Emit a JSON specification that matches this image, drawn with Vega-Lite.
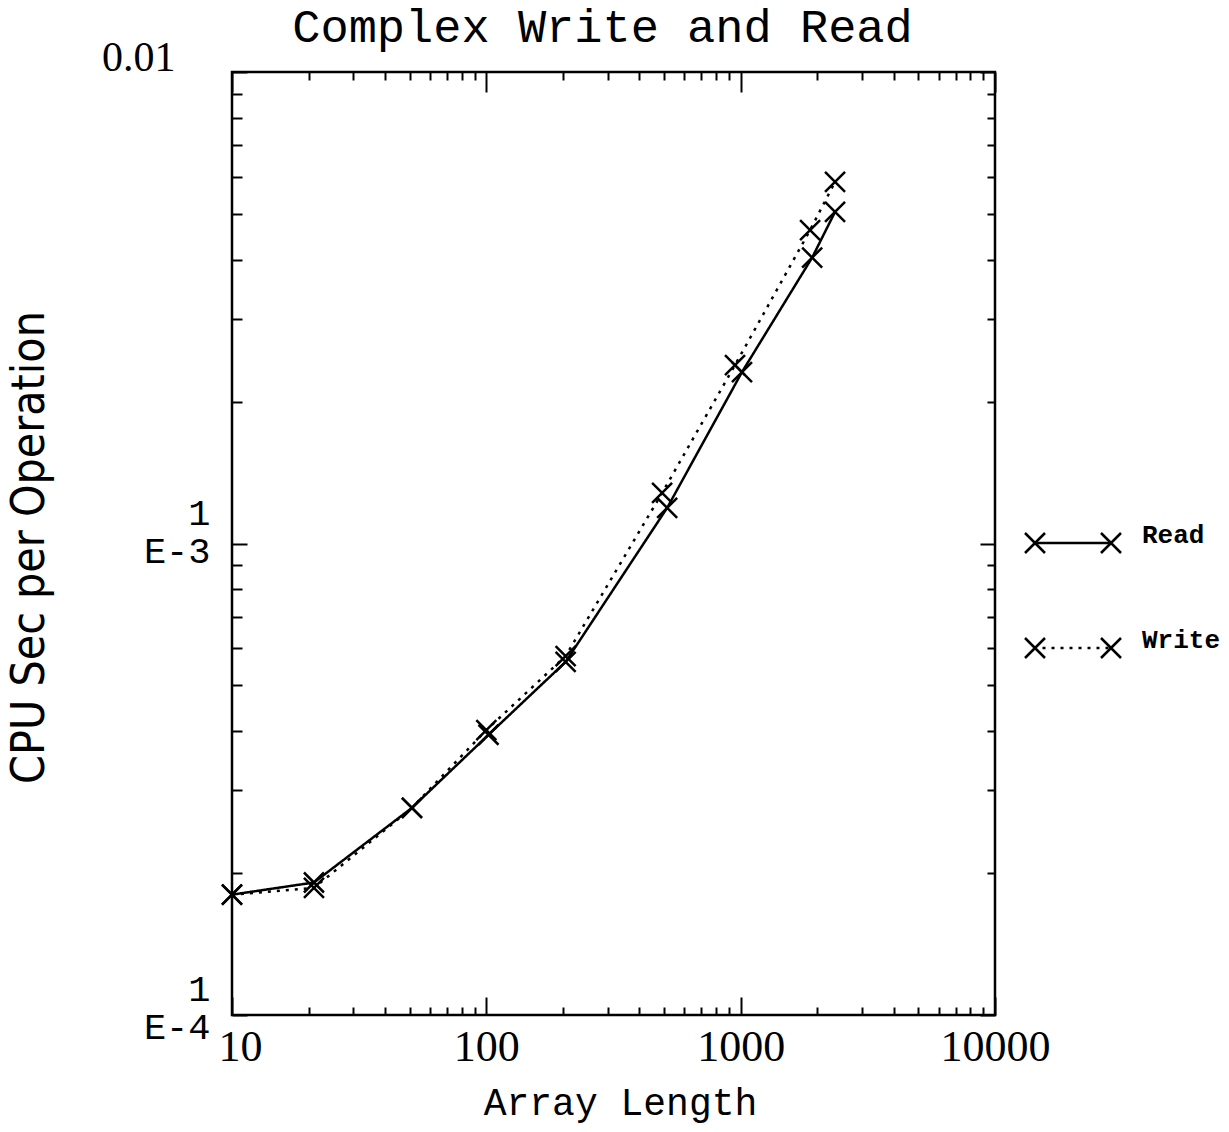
{
  "$schema": "https://vega.github.io/schema/vega-lite/v6.json",
  "width": 763,
  "height": 943,
  "autosize": "none",
  "padding": {"left": 232, "top": 72, "right": 234, "bottom": 117},
  "background": "white",
  "config": {
    "view": {"stroke": "black", "strokeWidth": 2.5},
    "axis": {"domain": false, "grid": false, "tickColor": "black", "tickWidth": 2, "labelColor": "black", "titleColor": "black", "labelOverlap": false, "labelFlush": false}
  },
  "title": {"text": "Complex Write and Read", "font": "Liberation Mono", "fontSize": 47, "fontWeight": "normal", "color": "black", "anchor": "middle", "baseline": "alphabetic", "offset": -53, "dx": -11},
  "data": {"values": [
    {"series": "Read", "length": 10, "cpu": 0.000180},
    {"series": "Read", "length": 21, "cpu": 0.000191},
    {"series": "Read", "length": 51, "cpu": 0.000275},
    {"series": "Read", "length": 102, "cpu": 0.000393},
    {"series": "Read", "length": 205, "cpu": 0.000561},
    {"series": "Read", "length": 514, "cpu": 0.00119},
    {"series": "Read", "length": 1012, "cpu": 0.00231},
    {"series": "Read", "length": 1910, "cpu": 0.00404},
    {"series": "Read", "length": 2350, "cpu": 0.00505},
    {"series": "Write", "length": 10, "cpu": 0.000180},
    {"series": "Write", "length": 21, "cpu": 0.000186},
    {"series": "Write", "length": 51, "cpu": 0.000275},
    {"series": "Write", "length": 100, "cpu": 0.000402},
    {"series": "Write", "length": 205, "cpu": 0.000577},
    {"series": "Write", "length": 491, "cpu": 0.00128},
    {"series": "Write", "length": 950, "cpu": 0.00239},
    {"series": "Write", "length": 1875, "cpu": 0.00462},
    {"series": "Write", "length": 2350, "cpu": 0.00585}
  ]},
  "layer": [
    {
      "mark": {"type": "line", "color": "black", "strokeWidth": 2.5},
      "encoding": {
        "x": {"field": "length", "type": "quantitative",
          "scale": {"type": "log", "domain": [10, 10000], "nice": false},
          "axis": {"orient": "bottom",
            "values": [10,20,30,40,50,60,70,80,90,100,200,300,400,500,600,700,800,900,1000,2000,3000,4000,5000,6000,7000,8000,9000,10000],
            "labelExpr": "indexof([10,100,1000,10000], datum.value) >= 0 ? format(datum.value, 'd') : ''",
            "tickSize": {"condition": {"test": "indexof([10,100,1000,10000], datum.value) >= 0", "value": -18}, "value": -8},
            "labelOffset": {"condition": {"test": "datum.value == 10", "value": 8}, "value": 0},
            "labelPadding": 63, "labelBaseline": "alphabetic", "labelFont": "Liberation Serif", "labelFontSize": 44,
            "title": "Array Length", "titleFont": "Liberation Mono", "titleFontSize": 38, "titleFontWeight": "normal",
            "titleX": 388, "titleY": 99, "titleBaseline": "alphabetic", "titleAlign": "center"}},
        "y": {"field": "cpu", "type": "quantitative",
          "scale": {"type": "log", "domain": [0.0001, 0.01], "nice": false},
          "axis": {"orient": "left",
            "values": [0.0001,0.0002,0.0003,0.0004,0.0005,0.0006,0.0007,0.0008,0.0009,0.001,0.002,0.003,0.004,0.005,0.006,0.007,0.008,0.009,0.01],
            "labelExpr": "datum.value == 0.01 ? '0.01' : datum.value == 0.001 ? ['1','E-3'] : datum.value == 0.0001 ? ['1','E-4'] : ''",
            "tickSize": {"condition": {"test": "indexof([0.0001,0.001,0.01], datum.value) >= 0", "value": -15}, "value": -10},
            "labelPadding": {"condition": {"test": "datum.value == 0.01", "value": 72}, "value": 37},
            "labelOffset": {"condition": [{"test": "datum.value == 0.01", "value": -15}, {"test": "datum.value == 0.001", "value": -30}], "value": -26},
            "labelFont": {"condition": {"test": "datum.value == 0.01", "value": "Liberation Serif"}, "value": "Liberation Mono"},
            "labelFontSize": {"condition": {"test": "datum.value == 0.01", "value": 42}, "value": 37},
            "labelLineHeight": 38,
            "title": "CPU Sec per Operation", "titleFont": "DejaVu Sans Condensed", "titleFontSize": 46, "titleFontWeight": "normal",
            "titleX": -189, "titleY": 475, "titleAngle": -90, "titleBaseline": "alphabetic", "titleAlign": "center"}},
        "strokeDash": {"field": "series", "type": "nominal",
          "scale": {"domain": ["Read", "Write"], "range": [[1, 0], [3, 6]]},
          "legend": {"orient": "none", "legendX": 800, "legendY": 423, "title": null, "padding": 0,
            "symbolType": "M-1,0L1,0", "symbolSize": 5776, "symbolStrokeWidth": 2.5, "symbolStrokeColor": "black",
            "clipHeight": 96, "rowPadding": 9,
            "labelFont": "Liberation Mono", "labelFontSize": 26, "labelFontWeight": "bold", "labelColor": "black",
            "labelBaseline": "alphabetic", "labelOffset": 31}}
      }
    },
    {
      "mark": {"type": "point", "filled": false, "color": "black", "strokeWidth": 2.5, "size": 400, "opacity": 1},
      "encoding": {
        "x": {"field": "length", "type": "quantitative",
          "scale": {"type": "log", "domain": [10, 10000], "nice": false},
          "axis": {"orient": "top", "labels": false, "title": null,
            "values": [10,20,30,40,50,60,70,80,90,100,200,300,400,500,600,700,800,900,1000,2000,3000,4000,5000,6000,7000,8000,9000,10000],
            "tickSize": {"condition": {"test": "indexof([10,100,1000,10000], datum.value) >= 0", "value": -20}, "value": -8}}},
        "y": {"field": "cpu", "type": "quantitative",
          "scale": {"type": "log", "domain": [0.0001, 0.01], "nice": false},
          "axis": {"orient": "right", "labels": false, "title": null,
            "values": [0.0001,0.0002,0.0003,0.0004,0.0005,0.0006,0.0007,0.0008,0.0009,0.001,0.002,0.003,0.004,0.005,0.006,0.007,0.008,0.009,0.01],
            "tickSize": {"condition": {"test": "indexof([0.0001,0.001,0.01], datum.value) >= 0", "value": -15}, "value": -8}}},
        "shape": {"field": "series", "type": "nominal",
          "scale": {"range": ["M-1,-1L1,1M-1,1L1,-1", "M-1,-1L1,1M-1,1L1,-1"]},
          "legend": {"orient": "none", "legendX": 790, "legendY": 423, "title": null, "padding": 0,
            "symbolSize": 400, "symbolStrokeWidth": 2.5, "symbolStrokeColor": "black", "symbolFillColor": "transparent", "symbolOpacity": 1,
            "clipHeight": 96, "rowPadding": 9,
            "labelExpr": "''", "labelFontSize": 26, "labelBaseline": "alphabetic"}},
        "opacity": {"field": "series", "type": "nominal", "sort": "descending",
          "scale": {"range": [1, 1]},
          "legend": {"orient": "none", "legendX": 866, "legendY": 423, "title": null, "padding": 0,
            "symbolType": "M-1,-1L1,1M-1,1L1,-1", "symbolSize": 400, "symbolStrokeWidth": 2.5, "symbolStrokeColor": "black", "symbolFillColor": "transparent", "symbolOpacity": 1,
            "clipHeight": 96, "rowPadding": 9,
            "labelExpr": "''", "labelFontSize": 26, "labelBaseline": "alphabetic"}}
      }
    }
  ],
  "resolve": {"axis": {"x": "independent", "y": "independent"}}
}
